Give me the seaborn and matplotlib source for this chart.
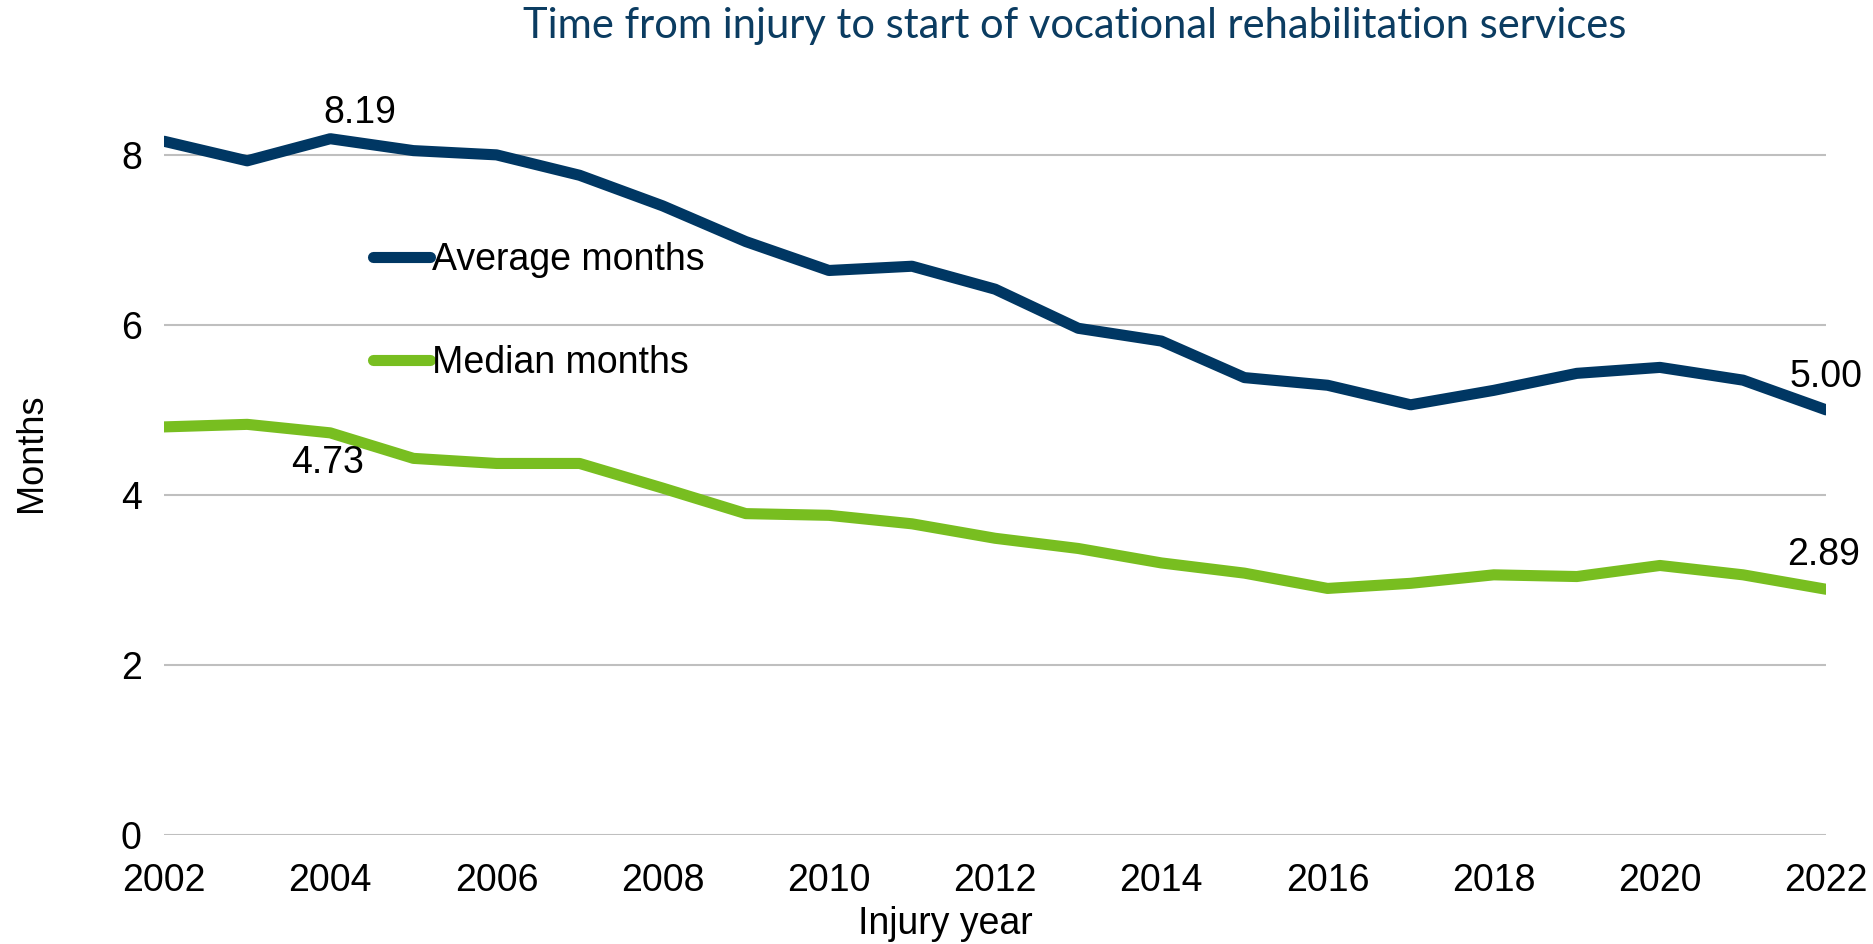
import matplotlib
matplotlib.use("Agg")
import matplotlib.pyplot as plt
import seaborn as sns
import pandas as pd

# values
years = list(range(2002, 2023))
average_months = [8.16, 7.93, 8.19, 8.05, 8.00, 7.76, 7.40, 6.98, 6.64, 6.69, 6.42,
                  5.96, 5.81, 5.38, 5.29, 5.06, 5.23, 5.43, 5.50, 5.35, 5.00]
median_months = [4.80, 4.83, 4.73, 4.43, 4.37, 4.37, 4.08, 3.78, 3.76, 3.66, 3.49,
                 3.37, 3.20, 3.08, 2.90, 2.96, 3.06, 3.04, 3.17, 3.06, 2.89]
series_names = ["Average months", "Median months"]
series_colors = ["#003763", "#78BE20"]

df = pd.DataFrame({
    "Injury year": years * 2,
    "Months": average_months + median_months,
    "series": [series_names[0]] * len(years) + [series_names[1]] * len(years),
})

sns.set_theme(style="white")
plt.rcParams["font.family"] = ["Liberation Sans", "DejaVu Sans"]
plt.rcParams["text.color"] = "black"
fs = 27

fig = plt.figure(figsize=(18.73, 9.44), dpi=100)
ax = fig.add_axes([0.0876, 0.1155, 0.8874, 0.8105])

sns.lineplot(data=df, x="Injury year", y="Months", hue="series",
             palette=dict(zip(series_names, series_colors)), linewidth=8,
             ax=ax, legend=True)

ax.set_xlim(2002, 2022)
ax.set_ylim(0, 9)
ax.set_xticks(range(2002, 2023, 2))
ax.set_yticks([0, 2, 4, 6, 8])
ax.yaxis.grid(True, color="#BFBFBF", linewidth=1.5)
ax.xaxis.grid(False)
sns.despine(ax=ax, left=True, bottom=True)
ax.tick_params(axis="both", length=0, labelsize=fs, colors="black")
ax.tick_params(axis="x", pad=20)
ax.tick_params(axis="y", pad=16)

ax.set_xlabel("Injury year", fontsize=fs, color="black")
ax.set_ylabel("Months", fontsize=26, color="black")
ax.xaxis.set_label_coords(0.47, -0.093)
ax.yaxis.set_label_coords(-0.069, 0.5)

leg = ax.legend(loc="center left", bbox_to_anchor=(0.126, 0.684), frameon=False,
                fontsize=fs, handlelength=1.5, handletextpad=0.05,
                labelspacing=1.8, borderpad=0, borderaxespad=0)
for line in leg.get_lines():
    line.set_linewidth(8)
for t in leg.get_texts():
    t.set_color("black")

# data labels
ax.annotate(f"{average_months[2]:.2f}", (years[2], average_months[2]), xytext=(21, 18.5),
            textcoords="offset points", ha="center", va="center", fontsize=fs, color="black")
ax.annotate(f"{median_months[2]:.2f}", (years[2], median_months[2]), xytext=(-2, -21.5),
            textcoords="offset points", ha="center", va="center", fontsize=fs, color="black")
ax.annotate(f"{average_months[-1]:.2f}", (years[-1], average_months[-1]), xytext=(0, 23.5),
            textcoords="offset points", ha="center", va="center", fontsize=fs, color="black",
            annotation_clip=False)
ax.annotate(f"{median_months[-1]:.2f}", (years[-1], median_months[-1]), xytext=(-2, 24.5),
            textcoords="offset points", ha="center", va="center", fontsize=fs, color="black",
            annotation_clip=False)

fig.text(0.574, 0.972, "Time from injury to start of vocational rehabilitation services",
         ha="center", va="center", fontsize=30, color="#0B3C61",
         family=["Lato", "DejaVu Sans"])

fig.savefig("out.png", dpi=100)
